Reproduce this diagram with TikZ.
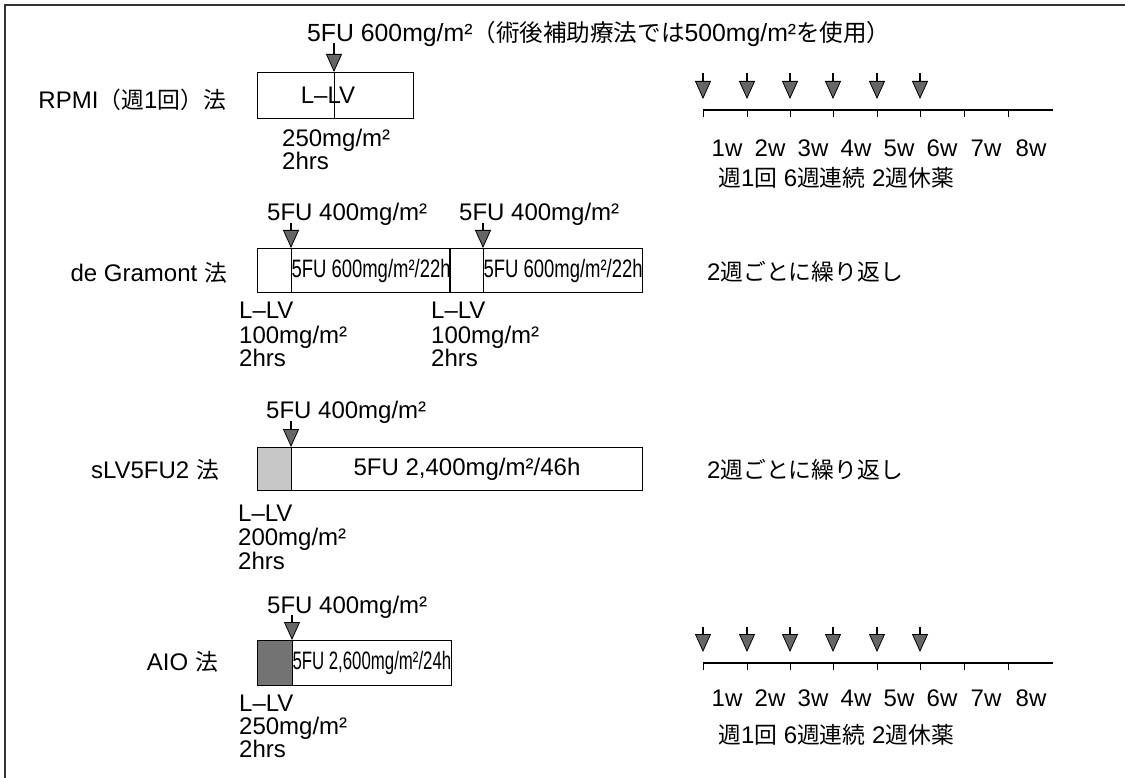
\documentclass[tikz,border=0pt]{standalone}
\usepackage{graphicx}
\usepackage{fontspec}
\setmainfont{Liberation Sans}
\newfontfamily\jp[Scale=0.95]{Noto Sans CJK JP}
\usetikzlibrary{arrows.meta}
\tikzset{
  txt/.style={anchor=base west, inner sep=0pt, font=\fontsize{24}{28}\selectfont},
  lbl/.style={anchor=base east, inner sep=0pt, font=\fontsize{24}{28}\selectfont},
  cell/.style={draw, line width=1pt, anchor=north west, inner sep=0pt, minimum height=45pt,
    font=\fontsize{24}{28}\selectfont},
  doseArrow/.style={line width=2pt, -{Triangle[width=16pt,length=18pt,fill=black!60,line width=0.8pt]}},
  axisline/.style={line width=1.2pt},
  tickline/.style={line width=1pt},
}
\begin{document}
\begin{tikzpicture}[x=1pt,y=-1pt]
\useasboundingbox (0,0) rectangle (1125,778);
% frame
\coordinate (fr1) at (1125,5); \coordinate (fr2) at (5,5); \coordinate (fr3) at (5,778);
\draw[line width=1.5pt, black!80] (fr1) -- (fr2) -- (fr3);

% ---------- RPMI ----------
\node[txt, font=\fontsize{24.8}{28}\selectfont] (title) at (307,42) {5FU 600mg/m²{\jp （術後補助療法では}500mg/m²{\jp を使用）}};
\node[lbl] (r1lbl) at (226,108.5) {RPMI{\jp （週}1{\jp 回）法}};
\node[cell, minimum width=156pt, minimum height=46pt] (r1box) at (257,72) {};
\coordinate (r1a) at (334,43);
\draw[line width=1pt] (r1a |- r1box.north) -- (r1a |- r1box.south);
\node[txt, anchor=base] (r1llv) at (328,104) {L–LV};
\draw[doseArrow] (r1a) -- (r1a |- r1box.north);
\node[txt] (r1dose) at (282,147) {250mg/m²};
\node[txt] (r1hrs) at (282,170) {2hrs};

% timeline top
\coordinate (ax1s) at (703,110); \coordinate (ax1e) at (1053,110);
\draw[axisline] (ax1s) -- (ax1e);
\foreach \i/\x in {1/703,2/747,3/790,4/833,5/877,6/920,7/964,8/1008}{
  \coordinate (tk1a\i) at (\x,110); \coordinate (tk1b\i) at (\x,117);
  \draw[tickline] (tk1a\i) -- (tk1b\i);
}
\foreach \i/\x in {1/703,2/747,3/790,4/833,5/877,6/920}{
  \coordinate (ta1s\i) at (\x,73); \coordinate (ta1e\i) at (\x,99);
  \draw[doseArrow] (ta1s\i) -- (ta1e\i);
}
\foreach \i/\x in {1/727,2/770,3/813,4/856,5/899,6/942,7/986,8/1031}{
  \node[txt, anchor=base] (tl1\i) at (\x,156.5) {\i w};
}
\node[txt] (tj1) at (718,186.5) {{\jp 週}1{\jp 回} 6{\jp 週連続} 2{\jp 週休薬}};

% ---------- de Gramont ----------
\node[lbl] (glbl) at (227,281.5) {de Gramont {\jp 法}};
\node[cell, minimum width=34pt, minimum height=44pt] (g1) at (257,248) {};
\node[cell, minimum width=158pt, minimum height=44pt] (g2) at (291,248) {\scalebox{0.77}[1.05]{5FU 600mg/m²/22h}};
\node[cell, minimum width=34pt, minimum height=44pt] (g3) at (449,248) {};
\node[cell, minimum width=159pt, minimum height=44pt] (g4) at (483,248) {\scalebox{0.77}[1.05]{5FU 600mg/m²/22h}};
\node[txt] (g5fu1) at (267,220.5) {5FU 400mg/m²};
\node[txt] (g5fu2) at (459,220.5) {5FU 400mg/m²};
\coordinate (g1a) at (291,223); \coordinate (g2a) at (483,223);
\draw[doseArrow] (g1a) -- (g2.north west);
\draw[doseArrow] (g2a) -- (g4.north west);
\node[txt] (gl1) at (239,319) {L–LV};
\node[txt] (gd1) at (239,343) {100mg/m²};
\node[txt] (gh1) at (239,366) {2hrs};
\node[txt] (gl2) at (431,319) {L–LV};
\node[txt] (gd2) at (431,343) {100mg/m²};
\node[txt] (gh2) at (431,366) {2hrs};
\node[txt] (grep) at (707,280.5) {2{\jp 週ごとに繰り返し}};

% ---------- sLV5FU2 ----------
\node[lbl] (slbl) at (219,478.5) {sLV5FU2 {\jp 法}};
\node[cell, minimum width=34pt, minimum height=43pt, fill=black!22] (s1) at (257,447) {};
\node[cell, minimum width=351pt, minimum height=43pt] (s2) at (291,447) {5FU 2,400mg/m²/46h};
\node[txt] (s5fu) at (266,418.5) {5FU 400mg/m²};
\coordinate (s1a) at (291,421);
\draw[doseArrow] (s1a) -- (s2.north west);
\node[txt] (sl) at (238,521.5) {L–LV};
\node[txt] (sd) at (238,545.5) {200mg/m²};
\node[txt] (sh) at (238,569.5) {2hrs};
\node[txt] (srep) at (707,478.5) {2{\jp 週ごとに繰り返し}};

% ---------- AIO ----------
\node[lbl] (albl) at (218,670.5) {AIO {\jp 法}};
\node[cell, minimum width=35pt, fill=black!55] (a1) at (257,640) {};
\node[cell, minimum width=157pt] (a2) at (292,640) {\scalebox{0.7}[1.05]{5FU 2,600mg/m²/24h}};
\node[txt] (a5fu) at (267,613.5) {5FU 400mg/m²};
\coordinate (a1a) at (292,615);
\draw[doseArrow] (a1a) -- (a2.north west);
\node[txt] (al) at (239,711.5) {L–LV};
\node[txt] (ad) at (239,734.5) {250mg/m²};
\node[txt] (ah) at (239,757.5) {2hrs};

% timeline bottom
\coordinate (ax2s) at (703,663); \coordinate (ax2e) at (1053,663);
\draw[axisline] (ax2s) -- (ax2e);
\foreach \i/\x in {1/703,2/747,3/790,4/833,5/877,6/920,7/964,8/1008}{
  \coordinate (tk2a\i) at (\x,663); \coordinate (tk2b\i) at (\x,670);
  \draw[tickline] (tk2a\i) -- (tk2b\i);
}
\foreach \i/\x in {1/703,2/747,3/790,4/833,5/877,6/920}{
  \coordinate (ta2s\i) at (\x,627); \coordinate (ta2e\i) at (\x,652);
  \draw[doseArrow] (ta2s\i) -- (ta2e\i);
}
\foreach \i/\x in {1/727,2/770,3/813,4/856,5/899,6/942,7/986,8/1031}{
  \node[txt, anchor=base] (tl2\i) at (\x,706.5) {\i w};
}
\node[txt] (tj2) at (718,743.5) {{\jp 週}1{\jp 回} 6{\jp 週連続} 2{\jp 週休薬}};
\end{tikzpicture}
\end{document}
